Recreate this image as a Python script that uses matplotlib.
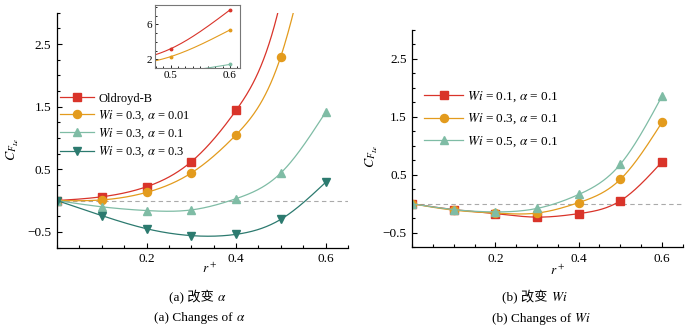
import numpy as np
import matplotlib
matplotlib.use('Agg')
import matplotlib.pyplot as plt
from matplotlib.ticker import MultipleLocator, FixedLocator
from matplotlib.offsetbox import TextArea, HPacker, AnnotationBbox

plt.rcParams['font.family'] = ['Liberation Serif', 'Noto Sans CJK SC', 'DejaVu Sans']
plt.rcParams['mathtext.fontset'] = 'stix'

r = [0.0, 0.1, 0.2, 0.3, 0.4, 0.5, 0.6]

# (a) varying alpha
cf_oldroyd = [0.0, 0.06, 0.22, 0.62, 1.44, 3.2, 7.63]
cf_a001 = [0.0, 0.01, 0.13, 0.44, 1.05, 2.3, 5.35]
cf_a01 = [0.0, -0.10, -0.16, -0.15, 0.03, 0.44, 1.41]
cf_a03 = [0.0, -0.24, -0.45, -0.56, -0.54, -0.30, 0.29]

# (b) varying Wi
cf_wi01 = [0.0, -0.10, -0.17, -0.23, -0.17, 0.05, 0.72]
cf_wi03 = [0.0, -0.11, -0.16, -0.16, 0.02, 0.42, 1.40]
cf_wi05 = [0.0, -0.10, -0.14, -0.08, 0.16, 0.68, 1.85]

labels_a = ['Oldroyd-B', r'$Wi$ = 0.3, $\alpha$ = 0.01',
            r'$Wi$ = 0.3, $\alpha$ = 0.1', r'$Wi$ = 0.3, $\alpha$ = 0.3']
labels_b = [r'$Wi$ = 0.1, $\alpha$ = 0.1', r'$Wi$ = 0.3, $\alpha$ = 0.1',
            r'$Wi$ = 0.5, $\alpha$ = 0.1']

RED = '#d9342a'
ORANGE = '#e39b1d'
LGREEN = '#7fbca5'
DGREEN = '#2c7a6f'


def spline(x, y, n=300):
    # natural cubic spline through the points
    x = np.asarray(x, float)
    y = np.asarray(y, float)
    h = np.diff(x)
    k = len(x)
    A = np.zeros((k, k))
    b = np.zeros(k)
    A[0, 0] = A[-1, -1] = 1
    for i in range(1, k - 1):
        A[i, i - 1] = h[i - 1]
        A[i, i] = 2 * (h[i - 1] + h[i])
        A[i, i + 1] = h[i]
        b[i] = 3 * ((y[i + 1] - y[i]) / h[i] - (y[i] - y[i - 1]) / h[i - 1])
    c = np.linalg.solve(A, b)
    xs = np.linspace(x[0], x[-1], n)
    idx = np.clip(np.searchsorted(x, xs) - 1, 0, k - 2)
    dx = xs - x[idx]
    bb = (y[1:] - y[:-1]) / h - h * (2 * c[:-1] + c[1:]) / 3
    d = (c[1:] - c[:-1]) / (3 * h)
    ys = y[idx] + bb[idx] * dx + c[idx] * dx ** 2 + d[idx] * dx ** 3
    return xs, ys


def drawSeries(ax, y, color, marker, label, ms=5.8):
    xs, ys = spline(r, y)
    ax.plot(xs, ys, '-', color=color, lw=0.9)
    ax.plot(r, y, marker, color=color, ms=ms, ls='none')
    # proxy for the legend: line with marker
    ax.plot([], [], '-', marker=marker, color=color, ms=ms, lw=0.9, label=label)


def styleAxes(ax):
    ax.set_xlim(0, 0.65)
    ax.set_ylim(-0.75, 3.0)
    ax.spines['top'].set_visible(False)
    ax.spines['right'].set_visible(False)
    for s in ['left', 'bottom']:
        ax.spines[s].set_linewidth(0.9)
    ax.xaxis.set_major_locator(FixedLocator([0.2, 0.4, 0.6]))
    ax.xaxis.set_minor_locator(MultipleLocator(0.05))
    ax.yaxis.set_major_locator(FixedLocator([-0.5, 0.5, 1.5, 2.5]))
    ax.yaxis.set_minor_locator(MultipleLocator(0.25))
    ax.tick_params(which='both', direction='in', labelsize=9.5, width=0.8)
    ax.tick_params(which='major', length=3.5, pad=4)
    ax.tick_params(which='minor', length=2)
    ax.axhline(0, color='#aaaaaa', lw=0.8, dashes=(4, 3))
    ax.set_xlabel(r'$r^+$', fontsize=9.5)
    ax.set_ylabel(r'$C_{F_{Le}}$', fontsize=10)


def caption(x, y, head, sym, size=9.5):
    # plain text part (CJK-capable) followed by a mathtext symbol
    parts = [TextArea(head, textprops=dict(fontsize=size)),
             TextArea(sym, textprops=dict(fontsize=size))]
    box = HPacker(children=parts, pad=0, sep=0, align='baseline')
    ab = AnnotationBbox(box, (x, y), xycoords='figure fraction',
                        frameon=False, box_alignment=(0.5, 0.5), pad=0)
    fig.add_artist(ab)


fig = plt.figure(figsize=(6.94, 3.29), dpi=100)
axA = fig.add_axes([0.0821, 0.2477, 0.4193, 0.7137])
axB = fig.add_axes([0.5941, 0.2483, 0.3896, 0.6617])

styleAxes(axA)
drawSeries(axA, cf_oldroyd, RED, 's', labels_a[0])
drawSeries(axA, cf_a001, ORANGE, 'o', labels_a[1])
drawSeries(axA, cf_a01, LGREEN, '^', labels_a[2])
drawSeries(axA, cf_a03, DGREEN, 'v', labels_a[3])
axA.xaxis.set_label_coords(0.526, -0.06)
axA.yaxis.set_label_coords(-0.125, 0.42)
axA.legend(loc='upper left', bbox_to_anchor=(0.01, 0.66), frameon=False,
           fontsize=9, handlelength=2.7, handletextpad=0.35, labelspacing=0.3,
           borderpad=0, borderaxespad=0)

styleAxes(axB)
drawSeries(axB, cf_wi01, RED, 's', labels_b[0])
drawSeries(axB, cf_wi03, ORANGE, 'o', labels_b[1])
drawSeries(axB, cf_wi05, LGREEN, '^', labels_b[2])
axB.xaxis.set_label_coords(0.539, -0.075)
axB.yaxis.set_label_coords(-0.12, 0.42)
axB.legend(loc='upper left', bbox_to_anchor=(0.045, 0.725), frameon=False,
           fontsize=9.5, handlelength=2.9, handletextpad=0.3, labelspacing=0.6,
           borderpad=0, borderaxespad=0)

# inset: tail of the curves at large r+
axI = fig.add_axes([0.2233, 0.7933, 0.1225, 0.1915])
for y, col in [(cf_oldroyd, RED), (cf_a001, ORANGE), (cf_a01, LGREEN), (cf_a03, DGREEN)]:
    xs, ys = spline(r, y)
    axI.plot(xs, ys, '-', color=col, lw=0.8)
    axI.plot(r, y, 'o', color=col, ms=1.8)
axI.set_xlim(0.4735, 0.617)
axI.set_ylim(1.0, 8.2)
axI.xaxis.set_major_locator(FixedLocator([0.5, 0.6]))
axI.xaxis.set_minor_locator(MultipleLocator(0.0125))
axI.yaxis.set_major_locator(FixedLocator([2, 6]))
axI.yaxis.set_minor_locator(MultipleLocator(1))
axI.tick_params(which='both', direction='in', labelsize=8, width=0.6, pad=2)
axI.tick_params(which='major', length=2.5)
axI.tick_params(which='minor', length=1.5)
for s in axI.spines.values():
    s.set_color('#777777')
    s.set_linewidth(0.8)

# captions
caption(0.285, 0.097, '(a) 改变 ', r'$\alpha$')
caption(0.288, 0.033, '(a) Changes of ', r'$\alpha$')
caption(0.771, 0.097, '(b) 改变 ', r'$Wi$')
caption(0.78, 0.033, '(b) Changes of ', r'$Wi$')

fig.savefig('out.png', dpi=100)
